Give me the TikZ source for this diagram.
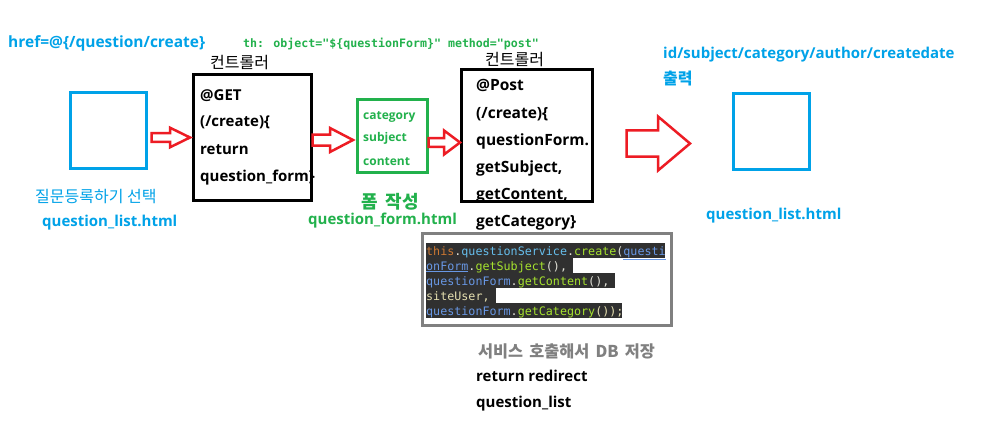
\documentclass[tikz,border=0pt]{standalone}
\usepackage{fontspec}
\setmainfont{Open Sans}
\newfontfamily\kr{Noto Sans CJK KR}
\newfontfamily\code{DejaVu Sans Mono}
\usetikzlibrary{calc}
\definecolor{pblue}{RGB}{0,162,232}
\definecolor{pred}{RGB}{237,28,36}
\definecolor{pgreen}{RGB}{34,177,76}
\definecolor{pgray}{RGB}{128,128,128}
\definecolor{cbg}{RGB}{48,48,48}
\definecolor{cor}{RGB}{204,120,50}
\definecolor{cwh}{RGB}{225,225,215}
\definecolor{ccy}{RGB}{102,190,236}
\definecolor{cbl}{RGB}{104,151,228}
\definecolor{cgr}{RGB}{166,226,46}
\definecolor{cye}{RGB}{230,224,176}
\newcommand{\barrow}[5]{%
 \draw[redarr] ($(#1)+(0,-#3)$) -- ($(#2)+(-#5,-#3)$) -- ($(#2)+(-#5,-#4)$) -- (#2) -- ($(#2)+(-#5,#4)$) -- ($(#2)+(-#5,#3)$) -- ($(#1)+(0,#3)$) -- cycle;}
\newcommand{\ul}[1]{\underline{#1}}
\tikzset{
  txt/.style={anchor=base west, inner sep=0pt, font=\fontsize{15}{17}\selectfont\bfseries},
  txtb/.style={anchor=base west, inner sep=0pt, font=\fontsize{15.5}{17}\selectfont\bfseries},
  bluesq/.style={draw=pblue, line width=3pt},
  blackbox/.style={draw=black, line width=3pt},
  greenbox/.style={draw=pgreen, line width=3pt},
  redarr/.style={draw=pred, line width=2.5pt, line join=miter},
  codeline/.style={anchor=base west, inner sep=0pt, font=\code\fontsize{11.7}{14}\selectfont},
  krtxt/.style={anchor=base west, inner sep=0pt, font=\kr\fontsize{16}{18}\selectfont},
}
\begin{document}
\begin{tikzpicture}[x=1pt,y=-1pt]
\useasboundingbox (0,0) rectangle (995,433);
\fill[white] (0,0) rectangle (995,433);

% top labels
\node[txtb, text=pblue] (href) at (8,48) {href=@\{/question/create\}};
\node[anchor=base west, inner sep=0pt, text=pgreen, font=\code\bfseries\fontsize{11.6}{14}\selectfont] (th) at (243,48) {th: object="\$\{questionForm\}" method="post"};

% left square
\draw[bluesq] (70.5,92.5) rectangle (146.5,168.5);
\node[krtxt, text=pblue] (sel) at (35,202) {질문등록하기 선택};
\node[txt, text=pblue] (ql1) at (42,226) {question\_list.html};

% controller 1
\node[krtxt] (c1) at (210,69) {컨트롤러};
\draw[blackbox] (193.5,74.5) rectangle (311.5,200.5);
\node[txt] (g1) at (200,101) {@GET};
\node[txt] (g2) at (200,127) {(/create)\{};
\node[txt] (g3) at (200,154) {return};
\node[txt] (g4) at (200,181) {question\_form\}};

% green form
\draw[greenbox] (357.5,99.5) rectangle (427,172.5);
\node[txt, text=pgreen, font=\fontsize{12}{14}\selectfont\bfseries] (f1) at (363,120) {category};
\node[txt, text=pgreen, font=\fontsize{12}{14}\selectfont\bfseries] (f2) at (363,142) {subject};
\node[txt, text=pgreen, font=\fontsize{12}{14}\selectfont\bfseries] (f3) at (363,165) {content};
\node[anchor=base west, inner sep=0pt, text=pgreen, font=\kr\bfseries\fontsize{18}{20}\selectfont] (fw) at (361,208) {폼\hspace{0.45em}작성};
\node[txt, text=pgreen] (qf) at (308,224) {question\_form.html};

% controller 2
\node[krtxt] (c2) at (485,66) {컨트롤러};
\draw[blackbox] (461.5,69.5) rectangle (592.5,201.5);
\node[txtb] (p1) at (476,91) {@Post};
\node[txtb] (p2) at (476,118) {(/create)\{};
\node[txtb] (p3) at (476,145) {questionForm.};
\node[txtb] (p4) at (476,172) {getSubject,};
\node[txtb] (p5) at (476,199) {getContent,};
\node[txtb] (p6) at (476,226) {getCategory\}};

% right side
\node[txt, text=pblue] (ids) at (663,59) {id/subject/category/author/createdate};
\node[anchor=base west, inner sep=0pt, text=pblue, font=\kr\bfseries\fontsize{16}{18}\selectfont] (out) at (663,85) {출력};
\draw[bluesq] (733.5,93.5) rectangle (809.5,169.5);
\node[txt, text=pblue] (ql2) at (706,219) {question\_list.html};

% code box
\fill[cbg] (426,243) rectangle (665,258);
\fill[cbg] (426,258) rectangle (573,273);
\fill[cbg] (426,273) rectangle (615,288);
\fill[cbg] (426,288) rectangle (496,303);
\fill[cbg] (426,303) rectangle (622,318);
\draw[pgray, line width=3pt] (422.5,233.5) rectangle (671,325.5);
\node[codeline] (l1) at (426,255) {\textcolor{cor}{this}\textcolor{cwh}{.}\textcolor{ccy}{questionService}\textcolor{cwh}{.}\textcolor{cgr}{create}\textcolor{cwh}{(}\textcolor{cbl}{\ul{questi}}};
\node[codeline] (l2) at (426,270) {\textcolor{cbl}{\ul{onForm}}\textcolor{cwh}{.}\textcolor{cgr}{getSubject}\textcolor{cwh}{(),}};
\node[codeline] (l3) at (426,285) {\textcolor{cbl}{questionForm}\textcolor{cwh}{.}\textcolor{cgr}{getContent}\textcolor{cwh}{(),}};
\node[codeline] (l4) at (426,300) {\textcolor{cye}{siteUser,}};
\node[codeline] (l5) at (426,315) {\textcolor{cbl}{questionForm}\textcolor{cwh}{.}\textcolor{cgr}{getCategory}\textcolor{cye}{());}};

\node[anchor=base west, inner sep=0pt, text=pgray, font=\kr\bfseries\fontsize{16.3}{18}\selectfont] (svc) at (478,357) {서비스\hspace{0.15em} 호출해서\hspace{0.15em} DB\hspace{0.15em} 저장};
\node[txt] (rr) at (476,381) {return redirect};
\node[txt] (rq) at (476,407) {question\_list};

% block arrows
\coordinate (a1s) at (151.5,137.5);
\coordinate (a1e) at (190,137.5);
\coordinate (a2s) at (312.5,140);
\coordinate (a2e) at (353,140);
\coordinate (a3s) at (428.5,142.5);
\coordinate (a3e) at (460,142.5);
\coordinate (a4s) at (626.5,143.5);
\coordinate (a4e) at (690,143.5);
\barrow{a1s}{a1e}{4.3}{9.8}{20}
\barrow{a2s}{a2e}{5.5}{12}{23}
\barrow{a3s}{a3e}{4.3}{12}{16}
\barrow{a4s}{a4e}{13.2}{27}{32}
\end{tikzpicture}
\end{document}
